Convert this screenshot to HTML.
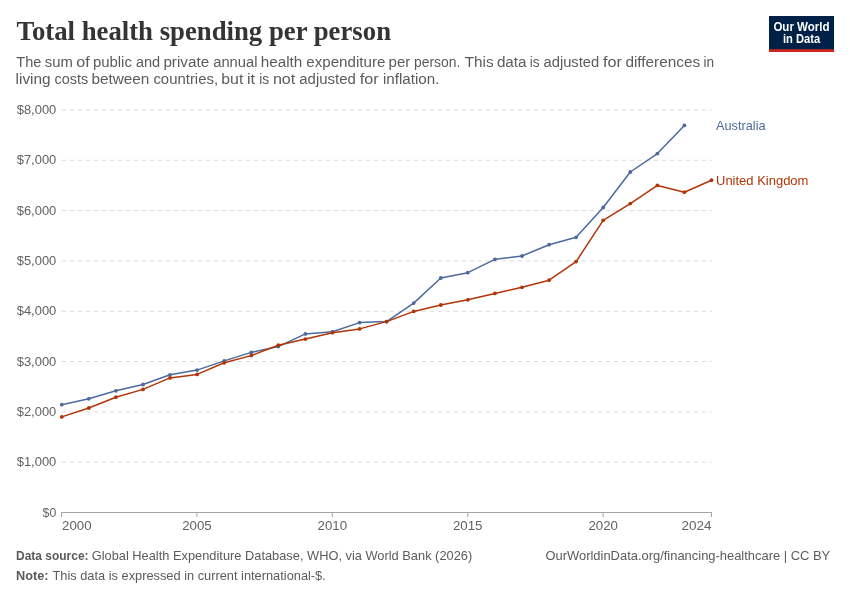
<!DOCTYPE html>
<html><head><meta charset="utf-8"><title>Total health spending per person</title>
<style>
html,body{margin:0;padding:0;background:#fff;}
body{width:850px;height:600px;overflow:hidden;font-family:"Liberation Sans",sans-serif;}
svg{display:block;will-change:transform}
text{font-family:"Liberation Sans",sans-serif;}
.title{font-family:"Liberation Serif",serif;font-weight:bold;font-size:27px;fill:#343434;}
.sub{font-size:14.7px;fill:#5b5b5b;}
.ax{font-size:12.6px;fill:#626262;}
.ft{font-size:12.2px;fill:#5b5b5b;}
.logo{font-size:12px;font-weight:bold;fill:#fff;}
</style></head><body>
<svg width="850" height="600" viewBox="0 0 850 600">
<rect width="850" height="600" fill="#fff"/>
<text x="16.5" y="40" class="title" textLength="374.5" lengthAdjust="spacingAndGlyphs">Total health spending per person</text>
<text x="16.3" y="67" class="sub" textLength="25.1" lengthAdjust="spacingAndGlyphs">The</text><text x="44.8" y="67" class="sub" textLength="28.0" lengthAdjust="spacingAndGlyphs">sum</text><text x="76.3" y="67" class="sub" textLength="13.4" lengthAdjust="spacingAndGlyphs">of</text><text x="92.9" y="67" class="sub" textLength="39.0" lengthAdjust="spacingAndGlyphs">public</text><text x="135.9" y="67" class="sub" textLength="24.3" lengthAdjust="spacingAndGlyphs">and</text><text x="163.4" y="67" class="sub" textLength="45.8" lengthAdjust="spacingAndGlyphs">private</text><text x="213.2" y="67" class="sub" textLength="44.3" lengthAdjust="spacingAndGlyphs">annual</text><text x="260.7" y="67" class="sub" textLength="41.6" lengthAdjust="spacingAndGlyphs">health</text><text x="306.3" y="67" class="sub" textLength="79.1" lengthAdjust="spacingAndGlyphs">expenditure</text><text x="388.6" y="67" class="sub" textLength="21.8" lengthAdjust="spacingAndGlyphs">per</text><text x="414.0" y="67" class="sub" textLength="46.4" lengthAdjust="spacingAndGlyphs">person.</text><text x="464.7" y="67" class="sub" textLength="28.9" lengthAdjust="spacingAndGlyphs">This</text><text x="496.9" y="67" class="sub" textLength="29.7" lengthAdjust="spacingAndGlyphs">data</text><text x="529.8" y="67" class="sub" textLength="9.8" lengthAdjust="spacingAndGlyphs">is</text><text x="543.5" y="67" class="sub" textLength="55.7" lengthAdjust="spacingAndGlyphs">adjusted</text><text x="603.1" y="67" class="sub" textLength="18.9" lengthAdjust="spacingAndGlyphs">for</text><text x="625.4" y="67" class="sub" textLength="74.8" lengthAdjust="spacingAndGlyphs">differences</text><text x="703.4" y="67" class="sub" textLength="10.6" lengthAdjust="spacingAndGlyphs">in</text>
<text x="15.6" y="84" class="sub" textLength="35.0" lengthAdjust="spacingAndGlyphs">living</text><text x="54.6" y="84" class="sub" textLength="33.6" lengthAdjust="spacingAndGlyphs">costs</text><text x="91.4" y="84" class="sub" textLength="58.0" lengthAdjust="spacingAndGlyphs">between</text><text x="153.4" y="84" class="sub" textLength="64.7" lengthAdjust="spacingAndGlyphs">countries,</text><text x="221.3" y="84" class="sub" textLength="22.0" lengthAdjust="spacingAndGlyphs">but</text><text x="246.9" y="84" class="sub" textLength="8.1" lengthAdjust="spacingAndGlyphs">it</text><text x="259.3" y="84" class="sub" textLength="10.0" lengthAdjust="spacingAndGlyphs">is</text><text x="272.9" y="84" class="sub" textLength="22.4" lengthAdjust="spacingAndGlyphs">not</text><text x="299.3" y="84" class="sub" textLength="56.5" lengthAdjust="spacingAndGlyphs">adjusted</text><text x="359.7" y="84" class="sub" textLength="18.9" lengthAdjust="spacingAndGlyphs">for</text><text x="383.0" y="84" class="sub" textLength="56.4" lengthAdjust="spacingAndGlyphs">inflation.</text>

<rect x="769" y="16" width="65" height="36" fill="#002147"/>
<rect x="769" y="49.2" width="65" height="2.8" fill="#ce261e"/>
<text x="801.5" y="30.6" text-anchor="middle" class="logo" textLength="56.2" lengthAdjust="spacingAndGlyphs">Our World</text>
<text x="801.5" y="42.6" text-anchor="middle" class="logo" textLength="37.2" lengthAdjust="spacingAndGlyphs">in Data</text>
<line x1="61.6" x2="711.5" y1="462.19" y2="462.19" stroke="#dcdcdc" stroke-width="1" stroke-dasharray="4.4,3.6"/>
<line x1="61.6" x2="711.5" y1="411.88" y2="411.88" stroke="#dcdcdc" stroke-width="1" stroke-dasharray="4.4,3.6"/>
<line x1="61.6" x2="711.5" y1="361.56" y2="361.56" stroke="#dcdcdc" stroke-width="1" stroke-dasharray="4.4,3.6"/>
<line x1="61.6" x2="711.5" y1="311.25" y2="311.25" stroke="#dcdcdc" stroke-width="1" stroke-dasharray="4.4,3.6"/>
<line x1="61.6" x2="711.5" y1="260.94" y2="260.94" stroke="#dcdcdc" stroke-width="1" stroke-dasharray="4.4,3.6"/>
<line x1="61.6" x2="711.5" y1="210.62" y2="210.62" stroke="#dcdcdc" stroke-width="1" stroke-dasharray="4.4,3.6"/>
<line x1="61.6" x2="711.5" y1="160.31" y2="160.31" stroke="#dcdcdc" stroke-width="1" stroke-dasharray="4.4,3.6"/>
<line x1="61.6" x2="711.5" y1="110.00" y2="110.00" stroke="#dcdcdc" stroke-width="1" stroke-dasharray="4.4,3.6"/>

<line x1="61" x2="712" y1="512.5" y2="512.5" stroke="#a5a5a5" stroke-width="1"/>
<line x1="61.5" x2="61.5" y1="512" y2="517" stroke="#a5a5a5" stroke-width="1"/>
<line x1="196.9" x2="196.9" y1="512" y2="517" stroke="#a5a5a5" stroke-width="1"/>
<line x1="332.3" x2="332.3" y1="512" y2="517" stroke="#a5a5a5" stroke-width="1"/>
<line x1="467.8" x2="467.8" y1="512" y2="517" stroke="#a5a5a5" stroke-width="1"/>
<line x1="603.2" x2="603.2" y1="512" y2="517" stroke="#a5a5a5" stroke-width="1"/>
<line x1="711.5" x2="711.5" y1="512" y2="517" stroke="#a5a5a5" stroke-width="1"/>
<text x="42.6" y="516.65" class="ax" textLength="13.7" lengthAdjust="spacingAndGlyphs">$0</text>
<text x="16.7" y="466.34" class="ax" textLength="39.6" lengthAdjust="spacingAndGlyphs">$1,000</text>
<text x="16.7" y="416.02" class="ax" textLength="39.6" lengthAdjust="spacingAndGlyphs">$2,000</text>
<text x="16.7" y="365.71" class="ax" textLength="39.6" lengthAdjust="spacingAndGlyphs">$3,000</text>
<text x="16.7" y="315.40" class="ax" textLength="39.6" lengthAdjust="spacingAndGlyphs">$4,000</text>
<text x="16.7" y="265.09" class="ax" textLength="39.6" lengthAdjust="spacingAndGlyphs">$5,000</text>
<text x="16.7" y="214.78" class="ax" textLength="39.6" lengthAdjust="spacingAndGlyphs">$6,000</text>
<text x="16.7" y="164.46" class="ax" textLength="39.6" lengthAdjust="spacingAndGlyphs">$7,000</text>
<text x="16.7" y="114.15" class="ax" textLength="39.6" lengthAdjust="spacingAndGlyphs">$8,000</text>
<text x="62.1" y="530.2" class="ax" textLength="29.5" lengthAdjust="spacingAndGlyphs">2000</text>
<text x="182.2" y="530.2" class="ax" textLength="29.5" lengthAdjust="spacingAndGlyphs">2005</text>
<text x="317.6" y="530.2" class="ax" textLength="29.5" lengthAdjust="spacingAndGlyphs">2010</text>
<text x="453.0" y="530.2" class="ax" textLength="29.5" lengthAdjust="spacingAndGlyphs">2015</text>
<text x="588.4" y="530.2" class="ax" textLength="29.5" lengthAdjust="spacingAndGlyphs">2020</text>
<text x="681.5" y="530.2" class="ax" textLength="30.0" lengthAdjust="spacingAndGlyphs">2024</text>

<polyline points="61.8,404.7 88.8,398.8 115.9,390.8 143.0,384.5 170.0,374.8 197.1,370.1 224.2,360.9 251.3,352.4 278.3,346.6 305.4,333.9 332.5,331.8 359.6,322.6 386.6,321.6 413.7,303.1 440.8,278.0 467.8,272.7 494.9,259.3 522.0,256.0 549.1,244.7 576.1,237.3 603.2,207.5 630.3,172.0 657.4,153.6 684.4,125.4" fill="none" stroke="#4c6a9c" stroke-width="1.5" stroke-linejoin="round" stroke-linecap="round"/>
<circle cx="61.8" cy="404.7" r="1.9" fill="#4c6a9c"/><circle cx="88.8" cy="398.8" r="1.9" fill="#4c6a9c"/><circle cx="115.9" cy="390.8" r="1.9" fill="#4c6a9c"/><circle cx="143.0" cy="384.5" r="1.9" fill="#4c6a9c"/><circle cx="170.0" cy="374.8" r="1.9" fill="#4c6a9c"/><circle cx="197.1" cy="370.1" r="1.9" fill="#4c6a9c"/><circle cx="224.2" cy="360.9" r="1.9" fill="#4c6a9c"/><circle cx="251.3" cy="352.4" r="1.9" fill="#4c6a9c"/><circle cx="278.3" cy="346.6" r="1.9" fill="#4c6a9c"/><circle cx="305.4" cy="333.9" r="1.9" fill="#4c6a9c"/><circle cx="332.5" cy="331.8" r="1.9" fill="#4c6a9c"/><circle cx="359.6" cy="322.6" r="1.9" fill="#4c6a9c"/><circle cx="386.6" cy="321.6" r="1.9" fill="#4c6a9c"/><circle cx="413.7" cy="303.1" r="1.9" fill="#4c6a9c"/><circle cx="440.8" cy="278.0" r="1.9" fill="#4c6a9c"/><circle cx="467.8" cy="272.7" r="1.9" fill="#4c6a9c"/><circle cx="494.9" cy="259.3" r="1.9" fill="#4c6a9c"/><circle cx="522.0" cy="256.0" r="1.9" fill="#4c6a9c"/><circle cx="549.1" cy="244.7" r="1.9" fill="#4c6a9c"/><circle cx="576.1" cy="237.3" r="1.9" fill="#4c6a9c"/><circle cx="603.2" cy="207.5" r="1.9" fill="#4c6a9c"/><circle cx="630.3" cy="172.0" r="1.9" fill="#4c6a9c"/><circle cx="657.4" cy="153.6" r="1.9" fill="#4c6a9c"/><circle cx="684.4" cy="125.4" r="1.9" fill="#4c6a9c"/>
<polyline points="61.8,416.9 88.8,408.0 115.9,397.2 143.0,389.4 170.0,377.9 197.1,374.4 224.2,362.8 251.3,355.6 278.3,345.2 305.4,339.1 332.5,332.7 359.6,328.9 386.6,321.6 413.7,311.4 440.8,305.0 467.8,299.8 494.9,293.4 522.0,287.3 549.1,280.2 576.1,261.6 603.2,220.3 630.3,203.6 657.4,185.4 684.4,192.2 711.5,180.2" fill="none" stroke="#b13507" stroke-width="1.5" stroke-linejoin="round" stroke-linecap="round"/>
<circle cx="61.8" cy="416.9" r="1.9" fill="#b13507"/><circle cx="88.8" cy="408.0" r="1.9" fill="#b13507"/><circle cx="115.9" cy="397.2" r="1.9" fill="#b13507"/><circle cx="143.0" cy="389.4" r="1.9" fill="#b13507"/><circle cx="170.0" cy="377.9" r="1.9" fill="#b13507"/><circle cx="197.1" cy="374.4" r="1.9" fill="#b13507"/><circle cx="224.2" cy="362.8" r="1.9" fill="#b13507"/><circle cx="251.3" cy="355.6" r="1.9" fill="#b13507"/><circle cx="278.3" cy="345.2" r="1.9" fill="#b13507"/><circle cx="305.4" cy="339.1" r="1.9" fill="#b13507"/><circle cx="332.5" cy="332.7" r="1.9" fill="#b13507"/><circle cx="359.6" cy="328.9" r="1.9" fill="#b13507"/><circle cx="386.6" cy="321.6" r="1.9" fill="#b13507"/><circle cx="413.7" cy="311.4" r="1.9" fill="#b13507"/><circle cx="440.8" cy="305.0" r="1.9" fill="#b13507"/><circle cx="467.8" cy="299.8" r="1.9" fill="#b13507"/><circle cx="494.9" cy="293.4" r="1.9" fill="#b13507"/><circle cx="522.0" cy="287.3" r="1.9" fill="#b13507"/><circle cx="549.1" cy="280.2" r="1.9" fill="#b13507"/><circle cx="576.1" cy="261.6" r="1.9" fill="#b13507"/><circle cx="603.2" cy="220.3" r="1.9" fill="#b13507"/><circle cx="630.3" cy="203.6" r="1.9" fill="#b13507"/><circle cx="657.4" cy="185.4" r="1.9" fill="#b13507"/><circle cx="684.4" cy="192.2" r="1.9" fill="#b13507"/><circle cx="711.5" cy="180.2" r="1.9" fill="#b13507"/>

<text x="716" y="130" class="ax" style="fill:#4c6a9c;font-size:13.2px" textLength="49.6" lengthAdjust="spacingAndGlyphs">Australia</text>
<text x="716" y="185" class="ax" style="fill:#b13507;font-size:13.2px" textLength="92.4" lengthAdjust="spacingAndGlyphs">United Kingdom</text>
<text x="16" y="560" class="ft" font-weight="bold" textLength="72.6" lengthAdjust="spacingAndGlyphs">Data source:</text>
<text x="91.7" y="560" class="ft" textLength="380.5" lengthAdjust="spacingAndGlyphs">Global Health Expenditure Database, WHO, via World Bank (2026)</text>
<text x="545.5" y="560" class="ft" textLength="284.7" lengthAdjust="spacingAndGlyphs">OurWorldinData.org/financing-healthcare | CC BY</text>
<text x="16" y="580" class="ft" font-weight="bold" textLength="32.5" lengthAdjust="spacingAndGlyphs">Note:</text>
<text x="52.5" y="580" class="ft" textLength="273.3" lengthAdjust="spacingAndGlyphs">This data is expressed in current international-$.</text>
</svg>
</body></html>
